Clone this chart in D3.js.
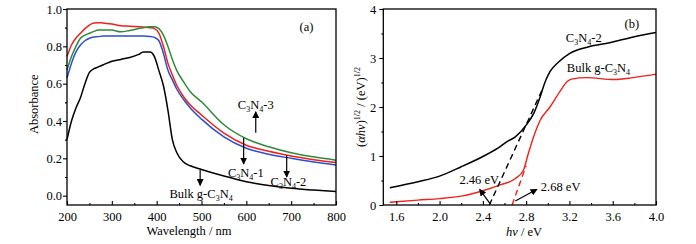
<!DOCTYPE html>
<html>
<head>
<meta charset="utf-8">
<script src="https://cdn.jsdelivr.net/npm/d3@7"></script>
<style>
  body { margin: 0; background: #fff; }
  svg { display: block; font-family: "Liberation Serif", "DejaVu Serif", serif; }
</style>
</head>
<body>
<div id="chart"></div>
<script>
// panel (a): absorbance spectra
const wavelengths = [200,210,220,230,240,250,260,270,280,300,320,340,360,370,385,395,405,415,425,435,445,460,475,500,550,600,650,700,750,800];
const absBulk = [0.30,0.40,0.47,0.525,0.60,0.66,0.68,0.69,0.70,0.72,0.73,0.74,0.757,0.77,0.77,0.745,0.67,0.59,0.46,0.30,0.23,0.18,0.16,0.14,0.105,0.075,0.055,0.04,0.03,0.022];
const absRed = [0.745,0.807,0.845,0.87,0.895,0.914,0.925,0.927,0.925,0.92,0.91,0.908,0.905,0.903,0.90,0.895,0.87,0.80,0.71,0.646,0.59,0.53,0.486,0.432,0.335,0.27,0.238,0.213,0.193,0.177];
const absGreen = [0.673,0.745,0.80,0.843,0.86,0.87,0.88,0.887,0.888,0.887,0.878,0.885,0.895,0.90,0.905,0.905,0.895,0.86,0.80,0.73,0.67,0.61,0.557,0.503,0.38,0.305,0.262,0.23,0.208,0.19];
const absBlue = [0.63,0.71,0.77,0.807,0.83,0.843,0.85,0.852,0.855,0.855,0.855,0.855,0.855,0.855,0.853,0.848,0.83,0.763,0.673,0.62,0.57,0.515,0.47,0.41,0.315,0.254,0.222,0.20,0.18,0.164];

// panel (b): Tauc plot
const energyC2 = [1.54,1.8,2.0,2.2,2.4,2.56,2.62,2.70,2.80,2.87,2.93,2.97,3.02,3.10,3.20,3.38,3.57,3.79,4.0];
const taucC2 = [0.353,0.476,0.59,0.78,0.99,1.19,1.29,1.39,1.63,1.87,2.21,2.48,2.72,2.92,3.09,3.23,3.31,3.43,3.52];
const energyBulk = [1.54,1.8,2.0,2.2,2.4,2.56,2.70,2.775,2.82,2.87,2.93,3.02,3.11,3.18,3.22,3.36,3.61,3.79,4.0];
const taucBulk = [0.055,0.10,0.13,0.18,0.29,0.41,0.54,0.71,1.05,1.40,1.73,2.0,2.31,2.52,2.57,2.6,2.56,2.6,2.67];
const tangentC2 = [[2.46,0],[2.95,2.36]];
const tangentBulk = [[2.67,0],[2.80,0.80]];

const xTicksA = [200,300,400,500,600,700,800];
const yTicksA = [0.0,0.2,0.4,0.6,0.8,1.0];
const xTicksB = [1.6,2.0,2.4,2.8,3.2,3.6,4.0];
const yTicksB = [0,1,2,3,4];

const FONT = "Liberation Serif";
const W = 696, H = 244;
const svg = d3.select("#chart").append("svg").attr("width", W).attr("height", H)
    .attr("font-family", FONT);

svg.append("defs").append("marker")
    .attr("id", "arr")
    .attr("viewBox", "0 0 10 10")
    .attr("refX", 9).attr("refY", 5)
    .attr("markerWidth", 7).attr("markerHeight", 7)
    .attr("markerUnits", "userSpaceOnUse")
    .attr("orient", "auto")
    .append("path").attr("d", "M0,0 L10,5 L0,10 Z").attr("fill", "black");

function frame(x, y) {
    const [x0, x1] = x.range(), [y0, y1] = y.range();
    svg.append("rect")
        .attr("x", x0).attr("y", y1)
        .attr("width", x1 - x0).attr("height", y0 - y1)
        .attr("fill", "none").attr("stroke", "black").attr("stroke-width", 1.3);
}

function axes(x, y, xt, yt, xminor, yminor, xfmt, yfmt, ypad) {
    const [x0] = x.range(), [y0] = y.range();
    // x major, ticks pointing inward
    const gx = svg.append("g").attr("transform", "translate(0," + y0 + ")")
        .call(d3.axisBottom(x).tickValues(xt).tickFormat(xfmt).tickSizeInner(-4).tickSizeOuter(0).tickPadding(7));
    svg.append("g").attr("transform", "translate(0," + y0 + ")")
        .call(d3.axisBottom(x).tickValues(xminor).tickFormat("").tickSizeInner(-2).tickSizeOuter(0));
    // y major outward
    const gy = svg.append("g").attr("transform", "translate(" + x0 + ",0)")
        .call(d3.axisLeft(y).tickValues(yt).tickFormat(yfmt).tickSizeInner(4).tickSizeOuter(0).tickPadding(ypad));
    svg.append("g").attr("transform", "translate(" + x0 + ",0)")
        .call(d3.axisLeft(y).tickValues(yminor).tickFormat("").tickSizeInner(2).tickSizeOuter(0));
    svg.selectAll(".domain").remove();
    svg.selectAll(".tick line").attr("stroke", "black").attr("stroke-width", 1.1);
    [gx, gy].forEach(function(g) {
        g.attr("font-family", FONT).attr("font-size", 12.5);
        g.selectAll("text").attr("fill", "black");
    });
}

// C3N4 style label with subscripts
function c3n4(sel, prefix, suffix) {
    if (prefix) sel.append("tspan").text(prefix);
    sel.append("tspan").text("C");
    sel.append("tspan").attr("font-size", 8).attr("dy", 3).text("3");
    sel.append("tspan").attr("dy", -3).text("N");
    sel.append("tspan").attr("font-size", 8).attr("dy", 3).text("4");
    sel.append("tspan").attr("dy", -3).text(suffix);
}

function label(x, y, anchor) {
    return svg.append("text").attr("x", x).attr("y", y)
        .attr("text-anchor", anchor).attr("font-size", 12.5).attr("fill", "black");
}

function arrow(x1, y1, x2, y2) {
    svg.append("line")
        .attr("x1", x1).attr("y1", y1).attr("x2", x2).attr("y2", y2)
        .attr("stroke", "black").attr("stroke-width", 1.2)
        .attr("marker-end", "url(#arr)");
}

// ---------- panel (a)
const xA = d3.scaleLinear().domain([200, 800]).range([67, 336]);
const yA = d3.scaleLinear().domain([-0.05, 1.0]).range([205, 9]);

const lineA = d3.line().curve(d3.curveMonotoneX)
    .x((d, i) => xA(wavelengths[i])).y(d => yA(d));

[[absBulk, "#000000"], [absBlue, "#2a50d0"], [absRed, "#f0201c"], [absGreen, "#2f8a3c"]].forEach(function(s) {
    svg.append("path").attr("d", lineA(s[0]))
        .attr("fill", "none").attr("stroke", s[1]).attr("stroke-width", 1.5);
});

axes(xA, yA, xTicksA, yTicksA, d3.range(250, 800, 100), [0.1, 0.3, 0.5, 0.7, 0.9],
    d3.format("d"), d3.format(".1f"), 1);
frame(xA, yA);

svg.append("text").attr("transform", "translate(38," + yA(0.49) + ") rotate(-90)")
    .attr("text-anchor", "middle").attr("font-size", 12.5).text("Absorbance");
svg.append("text").attr("x", 189).attr("y", 235)
    .attr("text-anchor", "middle").attr("font-size", 12.5).text("Wavelength / nm");
label(xA(734), yA(0.88), "middle").text("(a)");

arrow(xA(621), yA(0.337), xA(621), yA(0.45));
c3n4(label(xA(621), yA(0.465), "middle"), "", "-3");
arrow(xA(594), yA(0.31), xA(594), yA(0.17));
c3n4(label(xA(599), yA(0.10), "middle"), "", "-1");
arrow(xA(690), yA(0.215), xA(690), yA(0.10));
c3n4(label(xA(694), yA(0.052), "middle"), "", "-2");
arrow(xA(497), yA(0.138), xA(497), yA(0.055));
c3n4(label(xA(499), yA(-0.012), "middle"), "Bulk g-", "");

// ---------- panel (b)
const xB = d3.scaleLinear().domain([1.48, 4.0]).range([383.3, 656]);
const yB = d3.scaleLinear().domain([0, 4]).range([205, 9]);

const lineB = d3.line().curve(d3.curveMonotoneX).x(d => xB(d[0])).y(d => yB(d[1]));

svg.append("path").attr("d", lineB(energyBulk.map((e, i) => [e, taucBulk[i]])))
    .attr("fill", "none").attr("stroke", "#f0201c").attr("stroke-width", 1.4);
svg.append("path").attr("d", lineB(energyC2.map((e, i) => [e, taucC2[i]])))
    .attr("fill", "none").attr("stroke", "black").attr("stroke-width", 1.5);
svg.append("path").attr("d", lineB(tangentC2))
    .attr("fill", "none").attr("stroke", "black").attr("stroke-width", 1.4).attr("stroke-dasharray", "6,4");
svg.append("path").attr("d", lineB(tangentBulk))
    .attr("fill", "none").attr("stroke", "#f0201c").attr("stroke-width", 1.4).attr("stroke-dasharray", "6,4");

axes(xB, yB, xTicksB, yTicksB, d3.range(1.8, 4.0, 0.4), [0.5, 1.5, 2.5, 3.5],
    d3.format(".1f"), d3.format("d"), 3);
frame(xB, yB);

const yt = svg.append("text").attr("transform", "translate(365," + yB(2.0) + ") rotate(-90)")
    .attr("text-anchor", "middle").attr("font-size", 12.5);
yt.append("tspan").text("(");
yt.append("tspan").attr("font-style", "italic").text("αhν");
yt.append("tspan").text(")");
yt.append("tspan").attr("font-size", 8).attr("dy", -5).text("1/2");
yt.append("tspan").attr("dy", 5).text(" / (eV)");
yt.append("tspan").attr("font-size", 8).attr("dy", -5).text("1/2");

const xt = svg.append("text").attr("x", 524).attr("y", 236)
    .attr("text-anchor", "middle").attr("font-size", 12.5);
xt.append("tspan").attr("font-style", "italic").text("hν");
xt.append("tspan").text(" / eV");

label(xB(3.776), yB(3.62), "middle").text("(b)");
c3n4(label(xB(3.167), yB(3.33), "start"), "", "-2");
c3n4(label(xB(3.176), yB(2.71), "start"), "Bulk g-", "");

arrow(xB(2.47), yB(0.02), xB(2.37), yB(0.32));
label(xB(2.366), yB(0.43), "middle").text("2.46 eV");
arrow(xB(2.70), yB(0.08), xB(2.90), yB(0.32));
label(xB(2.936), yB(0.285), "start").text("2.68 eV");
</script>
</body>
</html>
